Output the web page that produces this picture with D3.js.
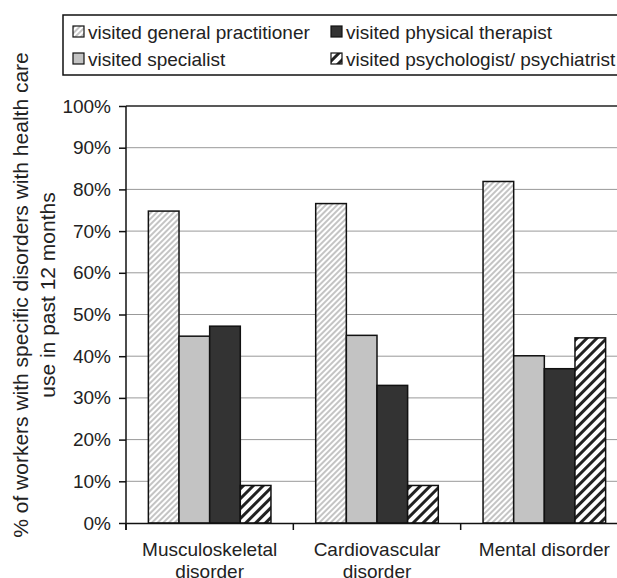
<!DOCTYPE html>
<html>
<head>
<meta charset="utf-8">
<script src="https://cdn.jsdelivr.net/npm/d3@7"></script>
<style>
  html, body { margin: 0; padding: 0; background: #fff; overflow: hidden; }
  svg { display: block; }
  text { font-family: "Liberation Sans", Arial, sans-serif; fill: #222; }
</style>
</head>
<body>
<svg id="chart"></svg>
<script>
// data
const categories = [["Musculoskeletal", "disorder"], ["Cardiovascular", "disorder"], ["Mental disorder"]];
const series = ["visited general practitioner", "visited specialist", "visited physical therapist", "visited psychologist/ psychiatrist"];
const gpValues = [74.8, 76.6, 81.9];
const specialistValues = [44.8, 45.0, 40.1];
const therapistValues = [47.2, 33.0, 37.0];
const psychValues = [9.0, 9.0, 44.4];
const yTicks = [0, 10, 20, 30, 40, 50, 60, 70, 80, 90, 100];

const values = [gpValues, specialistValues, therapistValues, psychValues];
const catNames = categories.map(c => c.join(" "));

const width = 617, height = 578;
const margin = { top: 106, left: 126, bottom: 55, right: -11 };
const innerWidth = width - margin.left - margin.right;
const innerHeight = height - margin.top - margin.bottom;

const svg = d3.select("#chart").attr("width", width).attr("height", height);

const defs = svg.append("defs");
// light fine hatch for GP
const p1 = defs.append("pattern").attr("id", "hatchLight")
  .attr("patternUnits", "userSpaceOnUse").attr("width", 4).attr("height", 4)
  .attr("patternTransform", "rotate(45)");
p1.append("rect").attr("width", 4).attr("height", 4).attr("fill", "#fff");
p1.append("rect").attr("width", 2).attr("height", 4).attr("fill", "#c4c4c4");
// bold hatch for psychologist
const p2 = defs.append("pattern").attr("id", "hatchBold")
  .attr("patternUnits", "userSpaceOnUse").attr("width", 7).attr("height", 7)
  .attr("patternTransform", "rotate(45)");
p2.append("rect").attr("width", 7).attr("height", 7).attr("fill", "#fff");
p2.append("rect").attr("width", 3).attr("height", 7).attr("fill", "#222");

const fills = ["url(#hatchLight)", "#c3c3c3", "#333", "url(#hatchBold)"];

const x0 = d3.scaleBand().domain(catNames).range([0, innerWidth]);
const x1 = d3.scaleBand().domain(series).range([0, x0.bandwidth()]).paddingOuter(0.73);
const y = d3.scaleLinear().domain([0, 100]).range([innerHeight, 0]);

const g = svg.append("g").attr("transform", "translate(" + margin.left + "," + margin.top + ")");

// gridlines
g.append("g")
  .selectAll("line")
  .data(yTicks.filter(t => t > 0 && t < 100))
  .enter()
  .append("line")
  .attr("x1", 0).attr("x2", innerWidth)
  .attr("y1", d => y(d)).attr("y2", d => y(d))
  .attr("stroke", "#999").attr("stroke-width", 1);

// top border of plot area
g.append("line")
  .attr("x1", 0).attr("x2", innerWidth)
  .attr("y1", y(100)).attr("y2", y(100))
  .attr("stroke", "#222").attr("stroke-width", 1.5);

// bars
const groups = g.selectAll(".cat")
  .data(catNames)
  .enter()
  .append("g")
  .attr("class", "cat")
  .attr("transform", d => "translate(" + x0(d) + ",0)");

groups.selectAll("rect")
  .data((d, ci) => series.map((s, si) => ({ s: s, si: si, v: values[si][ci] })))
  .enter()
  .append("rect")
  .attr("x", d => x1(d.s))
  .attr("width", x1.bandwidth())
  .attr("y", d => y(d.v))
  .attr("height", d => innerHeight - y(d.v))
  .attr("fill", d => fills[d.si])
  .attr("stroke", "#111")
  .attr("stroke-width", 1.5);

// y axis
const yAxis = d3.axisLeft(y).tickValues(yTicks).tickFormat(d => d + "%").tickSize(7).tickPadding(8);
const ya = g.append("g").call(yAxis);
ya.select(".domain").attr("stroke", "#111").attr("stroke-width", 1.5).attr("d", "M0," + (innerHeight + 7) + "V0");
ya.selectAll(".tick line").attr("stroke", "#111").attr("stroke-width", 1.5);
ya.selectAll(".tick text").attr("font-size", 19).attr("font-family", "Liberation Sans, Arial, sans-serif").attr("fill", "#222");

// x axis
const xAxis = d3.axisBottom(x0).tickSize(0).tickFormat("");
const xa = g.append("g").attr("transform", "translate(0," + innerHeight + ")").call(xAxis);
xa.select(".domain").attr("stroke", "#111").attr("stroke-width", 1.5);
xa.selectAll(".sep")
  .data(catNames)
  .enter()
  .append("line")
  .attr("class", "sep")
  .attr("x1", d => x0(d)).attr("x2", d => x0(d))
  .attr("y1", 0).attr("y2", 7)
  .attr("stroke", "#111").attr("stroke-width", 1.5);

xa.selectAll(".lab")
  .data(categories)
  .enter()
  .append("text")
  .attr("class", "lab")
  .attr("text-anchor", "middle")
  .attr("font-size", 19)
  .attr("x", (d, i) => x0(catNames[i]) + x0.bandwidth() / 2)
  .attr("y", 33)
  .selectAll("tspan")
  .data(d => d)
  .enter()
  .append("tspan")
  .attr("x", function () { return d3.select(this.parentNode).attr("x"); })
  .attr("dy", (d, i) => i === 0 ? 0 : "1.15em")
  .text(d => d);

// y title
const yTitle = svg.append("text")
  .attr("transform", "translate(28," + 295 + ") rotate(-90)")
  .attr("text-anchor", "middle")
  .attr("font-size", 21);
yTitle.append("tspan").attr("x", 0).attr("dy", 0).text("% of workers with specific disorders with health care");
yTitle.append("tspan").attr("x", 0).attr("dy", "1.3em").text("use in past 12 months");

// legend
const legend = svg.append("g");
legend.append("rect")
  .attr("x", 63).attr("y", 15).attr("width", 570).attr("height", 60)
  .attr("fill", "#fff").attr("stroke", "#111").attr("stroke-width", 1.5);

const legendCols = [73, 331];
const legendRows = [32, 59];
const items = legend.selectAll(".item")
  .data(series)
  .enter()
  .append("g")
  .attr("class", "item")
  .attr("transform", (d, i) => "translate(" + legendCols[Math.floor(i / 2)] + "," + legendRows[i % 2] + ")");

items.append("rect")
  .attr("x", 0).attr("y", -6).attr("width", 11).attr("height", 11)
  .attr("fill", (d, i) => fills[i])
  .attr("stroke", "#111").attr("stroke-width", 1.2);

items.append("text")
  .attr("x", 15).attr("y", 0)
  .attr("dy", "0.36em")
  .attr("font-size", 19)
  .text(d => d);
</script>
</body>
</html>
